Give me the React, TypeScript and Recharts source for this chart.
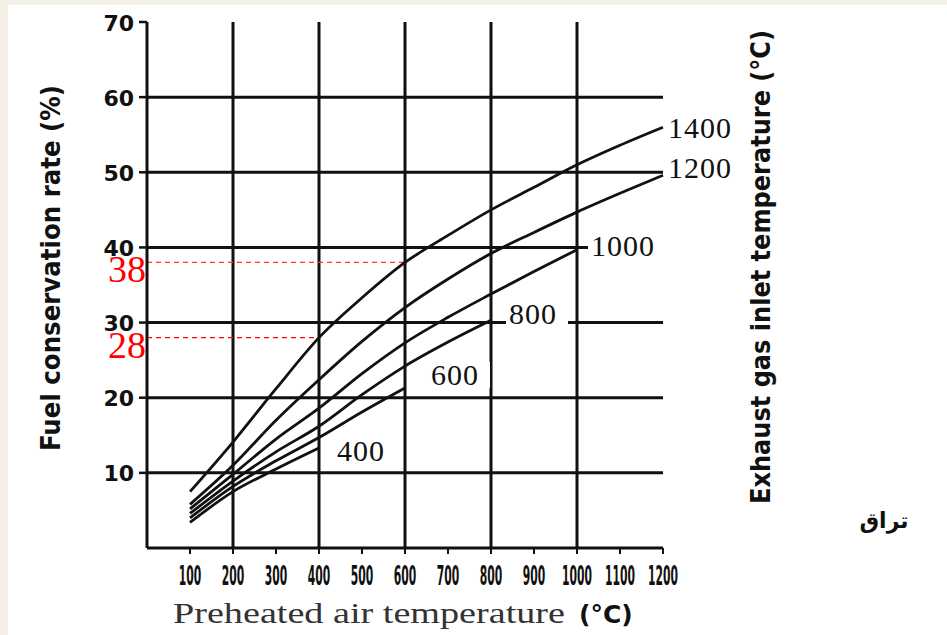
import { LineChart, Line, XAxis, YAxis, ReferenceLine } from "recharts";

const airTemps = [100, 200, 300, 400, 500, 600, 700, 800, 900, 1000, 1100, 1200];
const rate1400 = [7.5, 14.1, 21.2, 28, 33.3, 38, 41.6, 45, 48, 51, 53.6, 56];
const rate1200 = [5.8, 11, 17, 22.4, 27.5, 32, 35.8, 39.2, 42, 44.7, 47.2, 49.6];
const rate1000 = [5.2, 9.8, 14.5, 18.6, 23.2, 27.3, 30.7, 33.8, 36.8, 39.7, null, null];
const rate800 = [4.6, 8.9, 12.8, 16.2, 20.4, 24.2, 27.4, 30.3, null, null, null, null];
const rate600 = [4.0, 8.2, 11.6, 14.7, 18.1, 21.3, null, null, null, null, null, null];
const rate400 = [3.4, 7.5, 10.5, 13.3, null, null, null, null, null, null, null, null];

const yTicks = [10, 20, 30, 40, 50, 60, 70];
const gridX = [200, 400, 600, 800, 1000];
const gridY = [10, 20, 30, 40, 50, 60];
const markers = [
  { value: 38, upTo: 600, color: "#ff3a14" },
  { value: 28, upTo: 400, color: "#ff0000" },
];

const series = [
  { key: "g1400", name: "1400", values: rate1400, dx: 5, dy: 0 },
  { key: "g1200", name: "1200", values: rate1200, dx: 5, dy: -8 },
  { key: "g1000", name: "1000", values: rate1000, dx: 14, dy: -4 },
  { key: "g800", name: "800", values: rate800, dx: 18, dy: -7 },
  { key: "g600", name: "600", values: rate600, dx: 26, dy: -13 },
  { key: "g400", name: "400", values: rate400, dx: 18, dy: 2 },
];

const data = airTemps.map((x, i) => {
  const row: Record<string, number | null> = { x };
  series.forEach((s) => (row[s.key] = s.values[i]));
  return row;
});

const lastIndex = (vals: (number | null)[]) => {
  let k = 0;
  vals.forEach((v, i) => { if (v !== null) k = i; });
  return k;
};

const serif = "'Liberation Serif', 'Times New Roman', serif";
const boldSans = "'DejaVu Sans Condensed', 'DejaVu Sans', sans-serif";

function endLabel(s: typeof series[number]) {
  const last = lastIndex(s.values);
  return (props: any) => {
    const { x, y, index } = props;
    if (index !== last || x == null || y == null) return <g />;
    const lx = x + s.dx;
    const ly = y + s.dy;
    const w = s.name.length * 16 + 14;
    return (
      <g>
        <rect x={lx - 3} y={ly - 13} width={w} height={26} fill="#fff" />
        <text x={lx} y={ly} dominantBaseline="central" fontFamily={serif} fontSize={30} letterSpacing={1} fill="#111">
          {s.name}
        </text>
      </g>
    );
  };
}

const XTick = (props: any) => {
  const { x, y, payload } = props;
  const txt = String(payload.value);
  return (
    <text x={x} y={y + 29} textAnchor="middle" fontFamily={boldSans} fontWeight="bold" fontSize={27}
      textLength={txt.length * 7.5} lengthAdjust="spacingAndGlyphs" fill="#111">
      {txt}
    </text>
  );
};

const YTick = (props: any) => {
  const { x, y, payload } = props;
  return (
    <text x={x - 3} y={y + 1} textAnchor="end" dominantBaseline="central" fontFamily="'DejaVu Sans', sans-serif"
      fontWeight="bold" fontSize={22} fill="#111">
      {payload.value}
    </text>
  );
};

export default function App() {
  return (
    <div style={{ position: "absolute", left: 0, top: 0, width: 947, height: 635, background: "#f3efe6", overflow: "hidden" }}>
      <div style={{ position: "absolute", left: 8, top: 5, width: 939, height: 630, background: "#fff" }} />
      <div style={{ position: "absolute", left: 0, top: 0 }}>
        <LineChart width={947} height={635} data={data} margin={{ top: 22, right: 284, bottom: 57, left: 87 }}>
          <XAxis dataKey="x" type="number" domain={[0, 1200]} ticks={airTemps} height={30}
            axisLine={{ stroke: "#111", strokeWidth: 3 }} tickLine={{ stroke: "#111", strokeWidth: 2 }} tickSize={6}
            tick={<XTick />} interval={0} />
          <YAxis type="number" domain={[0, 70]} ticks={yTicks} width={60}
            axisLine={{ stroke: "#111", strokeWidth: 3 }} tickLine={{ stroke: "#111", strokeWidth: 2.5 }} tickSize={8}
            tick={<YTick />} interval={0} />
          {gridY.map((v) => (
            <ReferenceLine key={"h" + v} y={v} stroke="#111" strokeWidth={3} />
          ))}
          {gridX.map((v) => (
            <ReferenceLine key={"v" + v} x={v} stroke="#111" strokeWidth={3} />
          ))}
          {markers.map((m) => (
            <ReferenceLine key={"m" + m.value} segment={[{ x: 0, y: m.value }, { x: m.upTo, y: m.value }]}
              stroke={m.color} strokeWidth={1.3} strokeDasharray="5 4"
              label={(p: any) => (
                <text x={p.viewBox.x - 1} y={p.viewBox.y + 20} textAnchor="end" fontFamily={serif} fontSize={38} fill="#ff0000">
                  {m.value}
                </text>
              )} />
          ))}
          {series.map((s) => (
            <Line key={s.key} dataKey={s.key} type="monotone" stroke="#111" strokeWidth={2.8} dot={false}
              isAnimationActive={false} connectNulls={false} label={endLabel(s)} />
          ))}
        </LineChart>
      </div>
      <svg width={947} height={635} style={{ position: "absolute", left: 0, top: 0, pointerEvents: "none" }}>
        <text transform="translate(50,268) rotate(-90)" textAnchor="middle" dominantBaseline="central"
          fontFamily={boldSans} fontWeight="bold" fontSize={27} textLength={366} lengthAdjust="spacingAndGlyphs" fill="#111">
          Fuel conservation rate (%)
        </text>
        <text transform="translate(761,267) rotate(-90)" textAnchor="middle" dominantBaseline="central"
          fontFamily={boldSans} fontWeight="bold" fontSize={26} textLength={474} lengthAdjust="spacingAndGlyphs" fill="#111">
          Exhaust gas inlet temperature (°C)
        </text>
        <text x={173} y={623} fontFamily={serif} fontSize={29} textLength={392} lengthAdjust="spacingAndGlyphs" fill="#333">
          Preheated air temperature
        </text>
        <text x={579} y={623} fontFamily="'DejaVu Sans', sans-serif" fontWeight="bold" fontSize={25} fill="#111">
          (°C)
        </text>
        <text x={884} y={528} textAnchor="middle" fontFamily="'DejaVu Sans', sans-serif" fontWeight="bold" fontSize={22} fill="#111">
          تراق
        </text>
      </svg>
    </div>
  );
}
